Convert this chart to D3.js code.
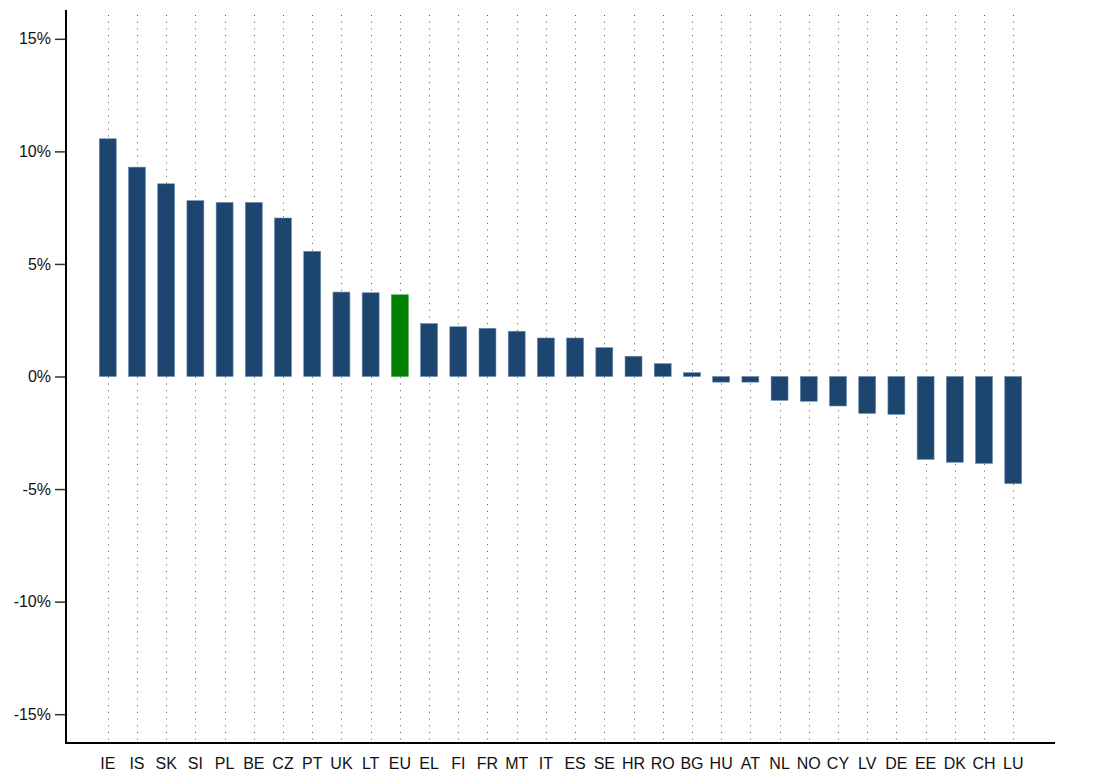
<!DOCTYPE html>
<html>
<head>
<meta charset="utf-8">
<script src="https://cdn.jsdelivr.net/npm/d3@7"></script>
<style>
  html, body { margin: 0; padding: 0; background: #fff; }
  svg { display: block; font-family: "Liberation Sans", Arial, sans-serif; }
</style>
</head>
<body>
<svg id="chart" width="1110" height="773"></svg>
<script>
// Country codes, in chart order
const countries = ["IE","IS","SK","SI","PL","BE","CZ","PT","UK","LT","EU","EL","FI","FR","MT","IT","ES","SE","HR","RO","BG","HU","AT","NL","NO","CY","LV","DE","EE","DK","CH","LU"];
// Change, in percent
const values = [10.56,9.30,8.56,7.81,7.73,7.73,7.04,5.56,3.75,3.72,3.63,2.35,2.21,2.14,2.01,1.71,1.71,1.28,0.90,0.57,0.17,-0.25,-0.25,-1.06,-1.10,-1.31,-1.64,-1.68,-3.68,-3.81,-3.86,-4.76];
// Y-axis tick values
const yTicks = [15,10,5,0,-5,-10,-15];

const svg = d3.select("#chart");
const plotLeft = 66, plotRight = 1055, plotTop = 10, plotBottom = 743;

const x = d3.scaleBand()
  .domain(countries)
  .range([plotLeft, plotRight])
  .paddingInner(0.42)
  .paddingOuter(1.14);

const y = d3.scaleLinear()
  .domain([-16.28, 16.28])
  .range([plotBottom, plotTop]);

// dotted vertical guides at every category
svg.append("g")
  .selectAll("line")
  .data(countries)
  .join("line")
  .attr("x1", d => Math.round(x(d) + x.bandwidth() / 2) + 0.5)
  .attr("x2", d => Math.round(x(d) + x.bandwidth() / 2) + 0.5)
  .attr("y1", 15)
  .attr("y2", plotBottom)
  .attr("stroke", "#555")
  .attr("stroke-width", 1)
  .attr("stroke-dasharray", "1,5.7");

// bars
svg.append("g")
  .selectAll("rect")
  .data(countries.map((c, i) => ({ c, v: values[i] })))
  .join("rect")
  .attr("x", d => x(d.c))
  .attr("width", x.bandwidth())
  .attr("y", d => y(Math.max(0, d.v)))
  .attr("height", d => Math.abs(y(d.v) - y(0)))
  .attr("fill", d => d.c === "EU" ? "#008000" : "#1c466f")
  .attr("stroke", d => d.c === "EU" ? "#4a9a4a" : "#6a8aa8")
  .attr("stroke-width", 0.6);

// y axis
const yAxis = d3.axisLeft(y)
  .tickValues(yTicks)
  .tickFormat(d => d + "%")
  .tickSize(11)
  .tickPadding(4);

const gy = svg.append("g").attr("transform", `translate(${plotLeft},0)`).call(yAxis);
gy.select(".domain").remove();
gy.selectAll(".tick line").attr("stroke", "#333").attr("stroke-width", 1.5);
gy.selectAll(".tick text").attr("font-size", 16).attr("fill", "#111")
  .attr("font-family", "Liberation Sans, Arial, sans-serif");

svg.append("line")
  .attr("x1", plotLeft).attr("x2", plotLeft)
  .attr("y1", plotTop).attr("y2", plotBottom)
  .attr("stroke", "#000").attr("stroke-width", 2);

// x axis
const xAxis = d3.axisBottom(x).tickSize(0).tickPadding(15);
const gx = svg.append("g").attr("transform", `translate(0,${plotBottom})`).call(xAxis);
gx.select(".domain").remove();
gx.selectAll(".tick text").attr("font-size", 16).attr("fill", "#111")
  .attr("font-family", "Liberation Sans, Arial, sans-serif");

svg.append("line")
  .attr("x1", plotLeft - 1).attr("x2", plotRight)
  .attr("y1", plotBottom).attr("y2", plotBottom)
  .attr("stroke", "#000").attr("stroke-width", 2);
</script>
</body>
</html>
